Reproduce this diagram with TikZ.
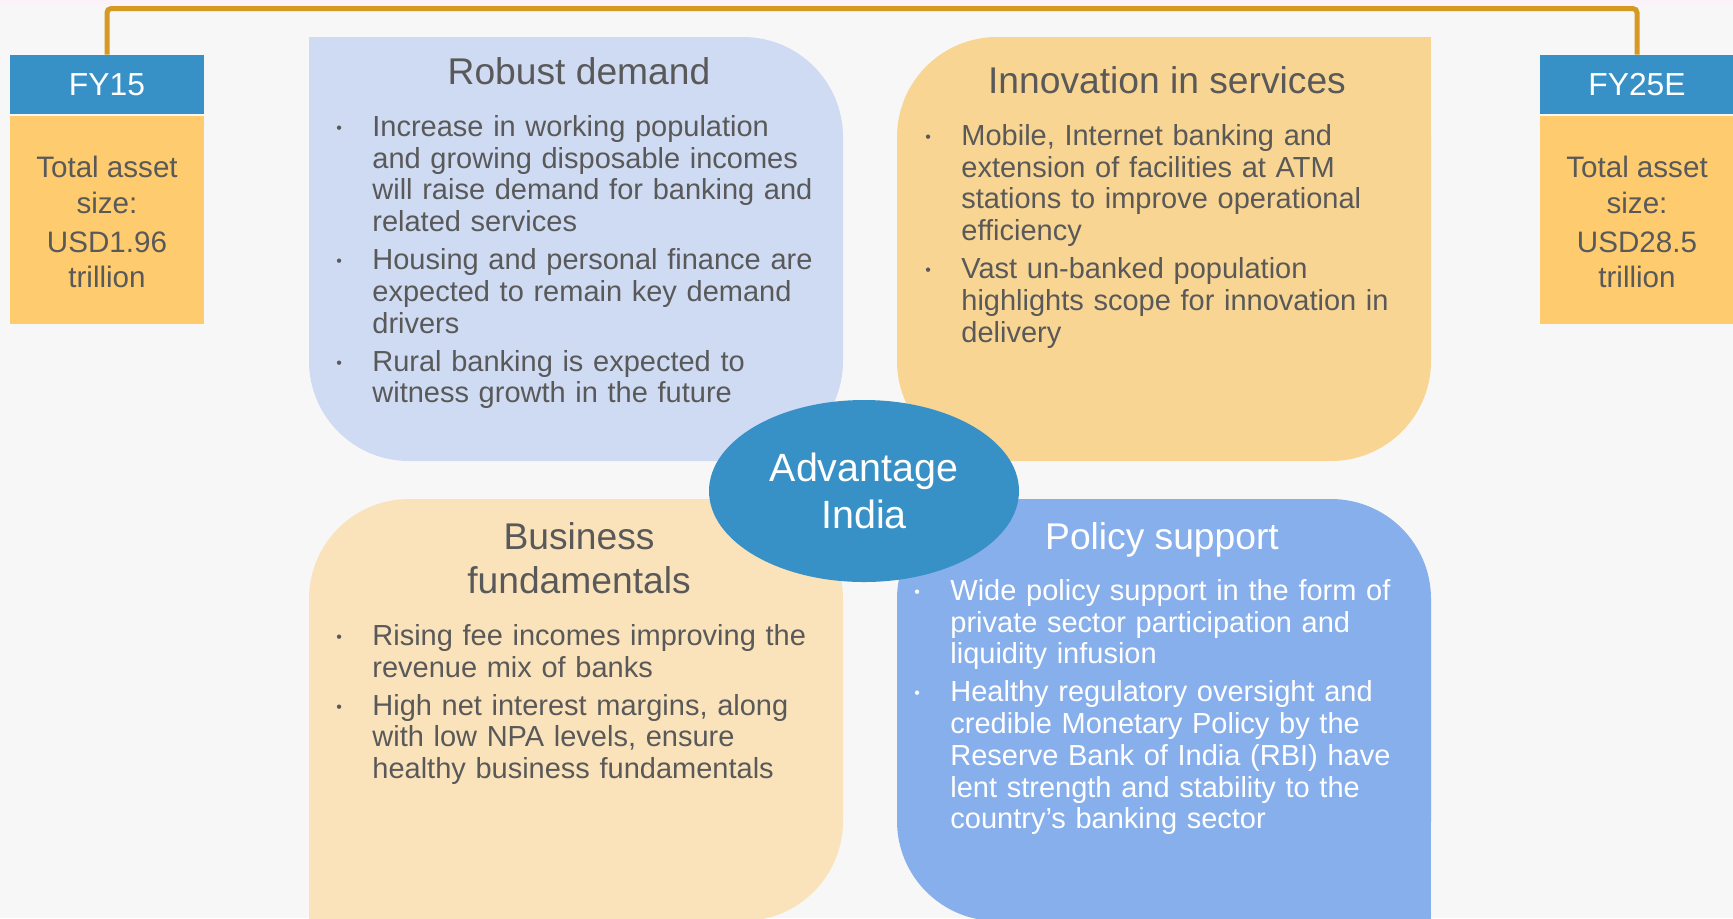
\documentclass[tikz,border=0pt]{standalone}
\usepackage{fontspec}
\setmainfont{Liberation Sans}
\usetikzlibrary{shapes.geometric,positioning}
\definecolor{bgray}{HTML}{F7F7F7}
\definecolor{topstrip}{HTML}{FBF3F9}
\definecolor{txtgray}{HTML}{595959}
\definecolor{linegold}{HTML}{D69A24}
\definecolor{hdblue}{HTML}{3891C6}
\definecolor{fyorange}{HTML}{FECB6F}
\definecolor{demandblue}{HTML}{CFDBF2}
\definecolor{innovorange}{HTML}{F8D592}
\definecolor{bizcream}{HTML}{FAE3BB}
\definecolor{policyblue}{HTML}{87AFEC}
% one bullet point with hanging indent
\newcommand\bitem[1]{\hangindent=21pt\hangafter=1\noindent\makebox[21pt][l]{\hspace{3pt}\raisebox{1.5pt}{\fontsize{8}{8}\selectfont\textbullet}}#1\par\vspace{3.2pt}}

\begin{document}
\begin{tikzpicture}[x=0.5pt, y=-0.5pt,
  fyhead/.style={fill=hdblue, text=white, minimum width=97pt, minimum height=29.5pt, inner sep=0pt, font=\fontsize{15.9}{18}\selectfont},
  fybody/.style={fill=fyorange, text=txtgray, minimum width=97pt, minimum height=104pt, inner sep=0pt, align=center, font=\fontsize{14.8}{17.6}\selectfont},
  boxtitle/.style={text=txtgray, inner sep=0pt, align=center, font=\fontsize{18.6}{22}\selectfont},
  bullets/.style={text=txtgray, anchor=north west, inner sep=0pt, text width=260pt, font=\fontsize{14.5}{15.85}\selectfont},
  hub/.style={ellipse, fill=hdblue, text=white, minimum width=155pt, minimum height=91pt, inner sep=0pt, align=center, font=\fontsize{19.7}{23.5}\selectfont},
  goldline/.style={draw=linegold, line width=2.5pt, rounded corners=2pt}]
\useasboundingbox (0,0) rectangle (1733,918);
\clip (0,0) rectangle (1733,918);
\fill[bgray] (0,0) rectangle (1733,918);
\fill[topstrip] (0,0) rectangle (1733,5);
% the four theme boxes, outer corner square
\fill[demandblue, rounded corners=50pt] (309,37) rectangle (843,461);
\fill[demandblue] (309,37) rectangle (409,137);
\fill[innovorange, rounded corners=50pt] (897,37) rectangle (1431,461);
\fill[innovorange] (1331,37) rectangle (1431,137);
\fill[bizcream, rounded corners=50pt] (309,499) rectangle (843,921);
\fill[bizcream] (309,821) rectangle (409,921);
\fill[policyblue, rounded corners=50pt] (897,499) rectangle (1431,921);
\fill[policyblue] (1331,821) rectangle (1431,921);
% titles and bullet texts
\node[boxtitle, anchor=base] (demandtitle) at (579,84) {Robust demand};
\node[bullets] (demandlist) at (330,115) {%
\bitem{Increase in working population\newline and growing disposable incomes\newline will raise demand for banking and\newline related services}
\bitem{Housing and personal finance are\newline expected to remain key demand\newline drivers}
\bitem{Rural banking is expected to\newline witness growth in the future}};
\node[boxtitle, anchor=base] (innovtitle) at (1167,93) {Innovation in services};
\node[bullets] (innovlist) at (919,124) {%
\bitem{Mobile, Internet banking and\newline extension of facilities at ATM\newline stations to improve operational\newline efficiency}
\bitem{Vast un-banked population\newline highlights scope for innovation in\newline delivery}};
\node[boxtitle] (biztitle) at (579,558) {Business\\fundamentals};
\node[bullets] (bizlist) at (330,624) {%
\bitem{Rising fee incomes improving the\newline revenue mix of banks}
\bitem{High net interest margins, along\newline with low NPA levels, ensure\newline healthy business fundamentals}};
\node[boxtitle, text=white, anchor=base] (policytitle) at (1162,549) {Policy support};
\node[bullets, text=white] (policylist) at (908,579) {%
\bitem{Wide policy support in the form of\newline private sector participation and\newline liquidity infusion}
\bitem{Healthy regulatory oversight and\newline credible Monetary Policy by the\newline Reserve Bank of India (RBI) have\newline lent strength and stability to the\newline country’s banking sector}};
% centre ellipse
\node[hub] (advantage) at (864,491) {Advantage\\India};
% asset size boxes and the line joining them
\node[fyhead] (fy15) at (107,84.5) {FY15};
\node[fybody, below=0.5pt of fy15] (fy15body) {\rule{0pt}{13pt}Total asset\\size:\\[2pt]USD1.96\\trillion};
\node[fyhead] (fy25) at (1637,84.5) {FY25E};
\node[fybody, below=0.5pt of fy25] (fy25body) {\rule{0pt}{13pt}Total asset\\size:\\[2pt]USD28.5\\trillion};
\draw[goldline] (fy15.north) -- ++(0,-46) -| (fy25.north);
\end{tikzpicture}
\end{document}
